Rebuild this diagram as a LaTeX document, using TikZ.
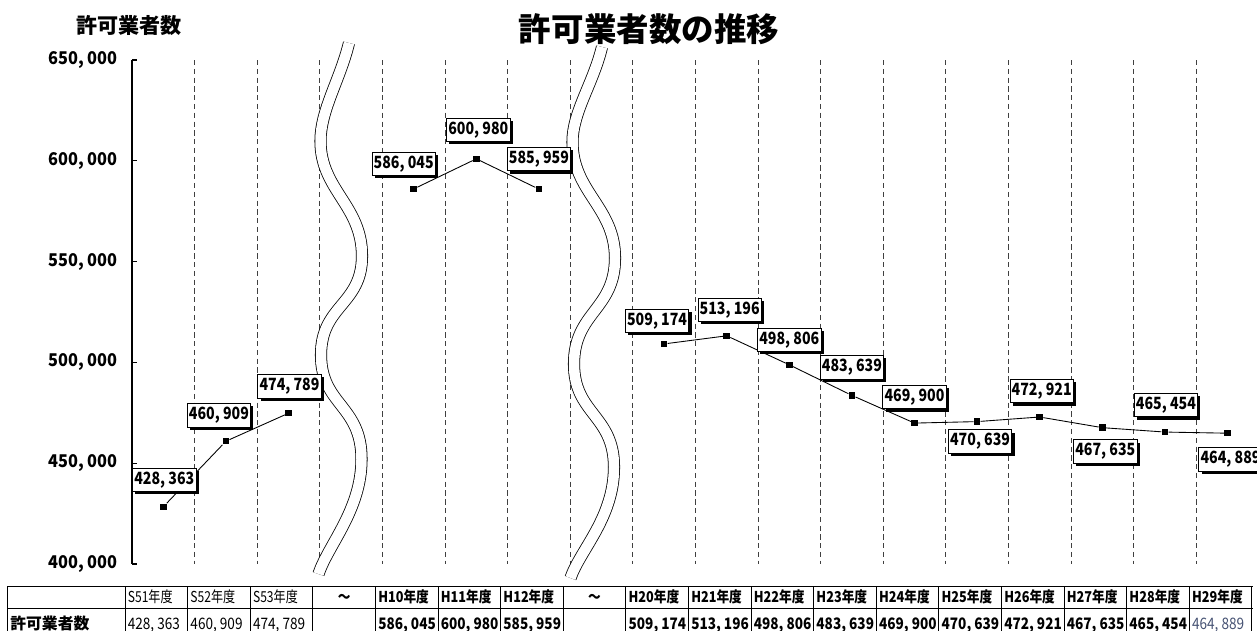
\documentclass[tikz,border=0pt]{standalone}
\usepackage{fontspec}
\setmainfont{Noto Sans CJK JP}
\newfontfamily\numfont[FakeStretch=0.84]{Noto Sans CJK JP}
\newfontfamily\tickfont[FakeStretch=0.93]{Noto Sans CJK JP}
\newfontfamily\valfont[FakeStretch=0.86]{Noto Sans CJK JP}
\newfontfamily\tabfont[FakeStretch=0.8]{Noto Sans CJK JP}
\newfontfamily\tabbfont[FakeStretch=0.85]{Noto Sans CJK JP}
\usetikzlibrary{shadows}
\definecolor{lastval}{RGB}{70,82,115}
\tikzset{
  pt/.style={fill=black, minimum size=0.13cm, inner sep=0pt},
  dline/.style={line width=0.5pt},
  gridline/.style={densely dashed, line width=0.4pt, black!75},
  axis/.style={line width=0.6pt},
  wave/.style={draw=black, double=white, double distance=0.21cm, line width=0.45pt},
  lbl/.style={draw, fill=white, line width=0.5pt, inner sep=0pt,
    minimum width=1.27cm, minimum height=0.47cm,
    font=\numfont\bfseries\fontsize{9.6}{10}\selectfont,
    drop shadow={opacity=1, fill=black, shadow xshift=0.055cm, shadow yshift=-0.055cm}},
  ytick/.style={font=\tickfont\bfseries\fontsize{10}{11}\selectfont, inner sep=0pt},
  tab/.style={line width=0.5pt},
  hdr/.style={font=\tabfont\fontsize{8.6}{9}\selectfont, inner sep=0pt},
  hdrb/.style={font=\tabbfont\bfseries\fontsize{8.5}{9}\selectfont, inner sep=0pt},
  val/.style={font=\valfont\fontsize{9}{10}\selectfont, inner sep=0pt},
  valb/.style={font=\valfont\bfseries\fontsize{9}{10}\selectfont, inner sep=0pt},
  valc/.style={val, text=lastval}
}
\def\chartdata{
 1/0/428.363/{428, 363}/1/-27,
 2/1/460.909/{460, 909}/-7/-26,
 3/2/474.789/{474, 789}/1/-27,
 4/4/586.045/{586, 045}/-10/-25,
 5/5/600.980/{600, 980}/2/-29,
 6/6/585.959/{585, 959}/0/-30,
 7/8/509.174/{509, 174}/-7/-23,
 8/9/513.196/{513, 196}/3/-26,
 9/10/498.806/{498, 806}/0/-25,
 10/11/483.639/{483, 639}/0/-28,
 11/12/469.900/{469, 900}/0/-26,
 12/13/470.639/{470, 639}/3/20,
 13/14/472.921/{472, 921}/2/-26,
 14/15/467.635/{467, 635}/3/24,
 15/16/465.454/{465, 454}/1/-27,
 16/17/464.889/{464, 889}/3/26}

\begin{document}
\begin{tikzpicture}[x=0.02cm, y=-0.02cm]
\clip (0,0) rectangle (1257,630);
\node[font=\bfseries\fontsize{18.5}{20}\selectfont] (title) at (649,29) {許可業者数の推移};
\node[font=\bfseries\fontsize{12}{14}\selectfont] (ytitle) at (129,25) {許可業者数};

\foreach \k in {1,...,17}
  \draw[gridline] ({132+62.6*\k},60) -- ({132+62.6*\k},564);
\draw[axis] (132,60) -- (132,564);
\foreach \v/\t in {650/{650, 000},600/{600, 000},550/{550, 000},500/{500, 000},450/{450, 000},400/{400, 000}}
{
  \draw[axis] (132,{564-(\v-400)*2.016}) -- ++(5,0);
  \node[ytick, anchor=east] (y\v) at (118,{564-(\v-400)*2.016}) {\t};
}

\draw[wave] (349,43) .. controls (340,80) and (320.5,110) .. (320.5,141)
  .. controls (320.5,190) and (362,205) .. (362,256)
  .. controls (362,305) and (321,305) .. (321,355)
  .. controls (321,405) and (361.5,405) .. (361.5,459)
  .. controls (361.5,510) and (328,545) .. (318.5,574);
\draw[wave] (602,47) .. controls (593,84) and (572.5,112) .. (572.5,142)
  .. controls (572.5,192) and (615,207) .. (615,258)
  .. controls (615,310) and (574,312) .. (574,364)
  .. controls (574,414) and (614,415) .. (614,467)
  .. controls (614,518) and (580,550) .. (570.5,578);

\foreach \i/\c/\v/\t/\dx/\dy in \chartdata
  \node[pt] (p\i) at ({132+62.6*(\c+0.5)},{564-(\v-400)*2.016}) {};
\draw[dline] (p1) -- (p2) -- (p3);
\draw[dline] (p4) -- (p5) -- (p6);
\draw[dline] (p7) -- (p8) -- (p9) -- (p10) -- (p11) -- (p12) -- (p13) -- (p14) -- (p15) -- (p16);
\foreach \i/\c/\v/\t/\dx/\dy in \chartdata
  \node[lbl] (l\i) at ([shift={(\dx,\dy)}]p\i) {\t};

\draw[tab] (7,586) -- (1253,586);
\draw[tab] (7,608) -- (1253,608);
\draw[tab] (7,586) -- (7,632);
\foreach \k in {0,...,18}
  \draw[tab] ({125+62.6*\k},586) -- ({125+62.6*\k},632);
\foreach \k/\h/\s in {0/S51年度/hdr,1/S52年度/hdr,2/S53年度/hdr,4/H10年度/hdrb,5/H11年度/hdrb,6/H12年度/hdrb,
  8/H20年度/hdrb,9/H21年度/hdrb,10/H22年度/hdrb,11/H23年度/hdrb,12/H24年度/hdrb,13/H25年度/hdrb,
  14/H26年度/hdrb,15/H27年度/hdrb,16/H28年度/hdrb,17/H29年度/hdrb}
  \node[\s, anchor=west] (h\k) at ({127.5+62.6*\k},597) {\h};
\node[hdrb] (h3) at ({125+62.6*3.5},598) {～};
\node[hdrb] (h7) at ({125+62.6*7.5},598) {～};
\node[valb, font=\bfseries\fontsize{9}{10}\selectfont, anchor=base west] (rowlbl) at (10,629) {許可業者数};
\foreach \k/\w/\s in {0/{428, 363}/val,1/{460, 909}/val,2/{474, 789}/val,4/{586, 045}/valb,5/{600, 980}/valb,
  6/{585, 959}/valb,8/{509, 174}/valb,9/{513, 196}/valb,10/{498, 806}/valb,11/{483, 639}/valb,
  12/{469, 900}/valb,13/{470, 639}/valb,14/{472, 921}/valb,15/{467, 635}/valb,16/{465, 454}/valb,17/{464, 889}/valc}
  \node[\s, anchor=base west] (v\k) at ({127.5+62.6*\k},629) {\w};
\end{tikzpicture}
\end{document}
